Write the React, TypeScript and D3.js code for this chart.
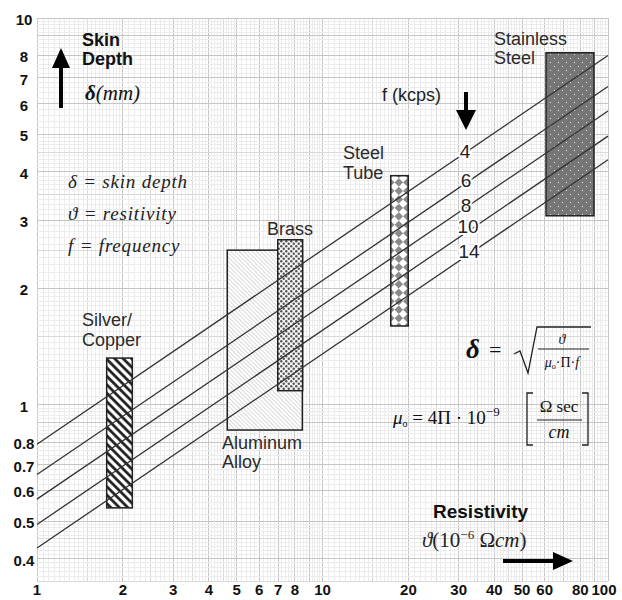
import * as d3 from 'd3';

// axis ticks (log-log paper)
const xTicks = [1, 2, 3, 4, 5, 6, 7, 8, 10, 20, 30, 40, 50, 60, 80, 100];
const yTicks = [10, 8, 7, 6, 5, 4, 3, 2, 1, 0.8, 0.7, 0.6, 0.5, 0.4];

// frequency lines, depth (mm) read at resistivity 1 and 100
const freqLabels = ['4', '6', '8', '10', '14'];
const depthAtRho1 = [0.79, 0.66, 0.57, 0.49, 0.426];
const depthAtRho100 = [8.0, 6.65, 5.75, 4.95, 4.3];

// material bands
const materials = ['silver', 'aluminum', 'brass', 'steelTube', 'stainless'];
const rhoLow = [1.754, 4.64, 6.97, 17.34, 60.66];
const rhoHigh = [2.157, 8.5, 8.52, 19.97, 89.3];
const depthLow = [0.541, 0.86, 1.087, 1.598, 3.08];
const depthHigh = [1.32, 2.51, 2.67, 3.91, 8.13];

const W = 622;
const H = 600;
const SANS = 'Liberation Sans, Arial, sans-serif';
const SERIF = 'Liberation Serif, Times New Roman, serif';

function gridValues(decades: number[], lo: number, hi: number) {
    const out: { v: number; level: number }[] = [];
    decades.forEach(d => {
        // 1..2 by .05, 2..5 by .1, 5..10 by .2 (in units of 0.01)
        for (let k = 100; k <= 1000; ) {
            const v = (k / 100) * d;
            let level = 0;
            if (k % 100 === 0) level = 2;
            else if (k % 50 === 0 && k < 500) level = 1;
            if (v >= lo - 1e-9 && v <= hi + 1e-9) out.push({ v, level });
            k += k < 200 ? 5 : k < 500 ? 10 : 20;
        }
    });
    return out;
}

const gridColor = ['#ececec', '#dadada', '#c6c6c6'];

export default function App() {
    const x = d3.scaleLog().domain([1, 100]).range([37, 608]);
    const y = d3.scaleLog().domain([0.35, 10]).range([581, 18]);

    const [x0, x1] = x.range();
    const [y0, y1] = y.range();

    const vGrid = gridValues([1, 10], 1, 100).sort((a, b) => a.level - b.level);
    const hGrid = gridValues([0.1, 1], 0.35, 10).sort((a, b) => a.level - b.level);

    const line = d3.line<[number, number]>()
        .x(d => x(d[0]))
        .y(d => y(d[1]));

    const fills: Record<string, string> = {
        silver: 'url(#hatch)',
        aluminum: 'url(#fineHatch)',
        brass: 'url(#dots)',
        steelTube: 'url(#diamonds)',
        stainless: 'url(#whiteDots)',
    };

    return (
        <svg width={W} height={H} style={{ position: 'absolute', left: 0, top: 0, background: '#fff' }}>
            <defs>
                <pattern id="hatch" patternUnits="userSpaceOnUse" width="6" height="6" patternTransform="rotate(-45)">
                    <rect width="6" height="6" fill="#fff" />
                    <line x1="1.5" y1="0" x2="1.5" y2="6" stroke="#111" strokeWidth="2.6" />
                </pattern>
                <pattern id="fineHatch" patternUnits="userSpaceOnUse" width="3" height="3" patternTransform="rotate(-45)">
                    <rect width="3" height="3" fill="#fff" />
                    <line x1="0.5" y1="0" x2="0.5" y2="3" stroke="#c8c8c8" strokeWidth="0.7" />
                </pattern>
                <pattern id="dots" patternUnits="userSpaceOnUse" width="5" height="5">
                    <rect width="5" height="5" fill="#f4f4f4" />
                    <circle cx="1.25" cy="1.25" r="1.2" fill="#555" />
                    <circle cx="3.75" cy="3.75" r="1.2" fill="#555" />
                </pattern>
                <pattern id="diamonds" patternUnits="userSpaceOnUse" width="12" height="12" patternTransform="rotate(45)">
                    <rect width="12" height="12" fill="#fff" />
                    <rect x="0" y="0" width="6" height="6" fill="#8a8a8a" />
                    <rect x="6" y="6" width="6" height="6" fill="#8a8a8a" />
                </pattern>
                <pattern id="whiteDots" patternUnits="userSpaceOnUse" width="8" height="8">
                    <rect width="8" height="8" fill="#767676" />
                    <rect x="2" y="2" width="1" height="1" fill="#e0e0e0" />
                    <rect x="6" y="6" width="1" height="1" fill="#e0e0e0" />
                </pattern>
            </defs>

            {/* graph paper */}
            <g shapeRendering="crispEdges">
                {vGrid.map((g, i) => (
                    <line key={'v' + i} x1={x(g.v)} x2={x(g.v)} y1={y1} y2={y0}
                        stroke={gridColor[g.level]} strokeWidth={1} />
                ))}
                {hGrid.map((g, i) => (
                    <line key={'h' + i} x1={x0} x2={x1} y1={y(g.v)} y2={y(g.v)}
                        stroke={gridColor[g.level]} strokeWidth={1} />
                ))}
            </g>

            {/* material bands */}
            {materials.map((m, i) => (
                <rect key={m}
                    x={x(rhoLow[i])} y={y(depthHigh[i])}
                    width={x(rhoHigh[i]) - x(rhoLow[i])}
                    height={y(depthLow[i]) - y(depthHigh[i])}
                    fill={fills[m]} stroke="#222" strokeWidth={1.5} />
            ))}

            {/* frequency lines */}
            {freqLabels.map((f, i) => (
                <path key={f} d={line([[1, depthAtRho1[i]], [100, depthAtRho100[i]]]) || ''}
                    fill="none" stroke="#333" strokeWidth={1.3} />
            ))}

            {/* tick labels */}
            <g fontFamily={SANS} fontWeight="bold" fontSize={15} fill="#111">
                {yTicks.map(t => (
                    <text key={'y' + t} x={24} y={y(t) + 7} textAnchor="middle">{String(t)}</text>
                ))}
                {xTicks.map(t => (
                    <text key={'x' + t} x={Math.min(x(t), 604)} y={595} textAnchor="middle">{String(t)}</text>
                ))}
            </g>

            {/* frequency labels */}
            <g fontFamily={SANS} fontSize={19} fill="#222" textAnchor="middle"
                stroke="#fff" strokeWidth={4} paintOrder="stroke">
                <text x={465} y={158}>4</text>
                <text x={466} y={187}>6</text>
                <text x={466} y={212}>8</text>
                <text x={468} y={233}>10</text>
                <text x={469} y={258}>14</text>
            </g>
            <text x={382} y={101} fontFamily={SANS} fontSize={18} fill="#222">f (kcps)</text>

            {/* material names */}
            <g fontFamily={SANS} fontSize={18} fill="#2a2a2a">
                <text x={82} y={326}>Silver/</text>
                <text x={82} y={346}>Copper</text>
                <text x={222} y={449}>Aluminum</text>
                <text x={222} y={468}>Alloy</text>
                <text x={267} y={235}>Brass</text>
                <text x={343} y={159}>Steel</text>
                <text x={343} y={179}>Tube</text>
                <text x={494} y={45}>Stainless</text>
                <text x={494} y={64}>Steel</text>
            </g>

            {/* axis titles */}
            <g fontFamily={SANS} fontWeight="bold" fontSize={18} fill="#111">
                <text x={82} y={46}>Skin</text>
                <text x={82} y={65}>Depth</text>
                <text x={433} y={518} fontSize={19}>Resistivity</text>
            </g>
            <text x={85} y={100} fontFamily={SERIF} fontSize={21} fill="#111">
                <tspan fontWeight="bold" fontStyle="italic">δ</tspan>
                <tspan fontStyle="italic">(mm)</tspan>
            </text>
            <text x={422} y={547} fontFamily={SERIF} fontSize={21} fill="#222">
                <tspan fontStyle="italic">ϑ</tspan>
                <tspan>(10</tspan>
                <tspan fontSize={13} dy={-8}>−6</tspan>
                <tspan dy={8}> Ω</tspan>
                <tspan fontStyle="italic">cm</tspan>
                <tspan>)</tspan>
            </text>

            {/* arrows */}
            <g fill="#000" stroke="#000">
                <line x1={61} y1={108} x2={61} y2={64} strokeWidth={4} />
                <path d="M52,68 L61,48 L70,68 Z" stroke="none" />
                <line x1={466} y1={92} x2={466} y2={114} strokeWidth={4} />
                <path d="M456,110 L466,130 L476,110 Z" stroke="none" />
                <line x1={503} y1={561} x2={557} y2={561} strokeWidth={4} />
                <path d="M553,552 L573,561 L553,570 Z" stroke="none" />
            </g>

            {/* legend of symbols */}
            <g fontFamily={SERIF} fontSize={19} fontStyle="italic" fill="#222" letterSpacing={0.8}>
                <text x={68} y={188}>δ =  skin depth</text>
                <text x={68} y={220}>ϑ =  resitivity</text>
                <text x={68} y={252}>f =  frequency</text>
            </g>

            {/* formula */}
            <g fontFamily={SERIF} fill="#111">
                <text x={466} y={358} fontSize={27} fontWeight="bold" fontStyle="italic">δ</text>
                <text x={489} y={357} fontSize={22}>=</text>
                <path d="M514,354 L520,351 L528,373 L537,327 L591,327" fill="none" stroke="#222" strokeWidth={1.3} />
                <text x={562} y={344} fontSize={14} fontStyle="italic" textAnchor="middle">ϑ</text>
                <line x1={538} x2={589} y1={349} y2={349} stroke="#222" strokeWidth={1.2} />
                <text x={562} y={367} fontSize={14} textAnchor="middle">
                    <tspan fontStyle="italic">μ</tspan>
                    <tspan fontSize={8} dy={2}>o</tspan>
                    <tspan dy={-2}>·Π·</tspan>
                    <tspan fontStyle="italic">f</tspan>
                </text>

                <text x={393} y={424} fontSize={19}>
                    <tspan fontStyle="italic">μ</tspan>
                    <tspan fontSize={10} dy={3}>o</tspan>
                    <tspan dy={-3}> = 4Π · 10</tspan>
                    <tspan fontSize={13} dy={-8}>−9</tspan>
                </text>
                <path d="M533,393 L527,393 L527,445 L533,445" fill="none" stroke="#222" strokeWidth={1.3} />
                <path d="M582,393 L588,393 L588,445 L582,445" fill="none" stroke="#222" strokeWidth={1.3} />
                <text x={559} y={412} fontSize={17} textAnchor="middle">Ω sec</text>
                <line x1={537} x2={582} y1={420} y2={420} stroke="#222" strokeWidth={1.2} />
                <text x={559} y={438} fontSize={18} fontStyle="italic" textAnchor="middle">cm</text>
            </g>
        </svg>
    );
}
